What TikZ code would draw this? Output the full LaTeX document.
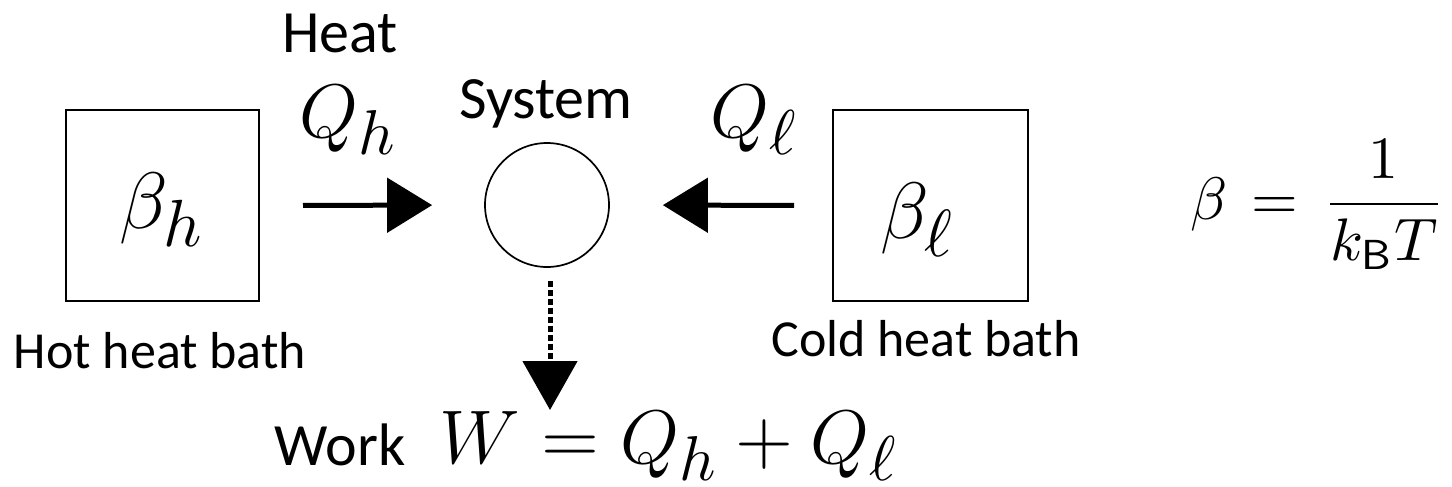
\documentclass[tikz,border=0pt]{standalone}
\usepackage{graphicx}
\usepackage{fontspec}
\newfontfamily\calib{Carlito}
\usetikzlibrary{arrows.meta}
\DeclareMathSizes{12}{12}{10}{7}
\newcommand{\BigMathLab}[1]{\scalebox{3.333}{\fontsize{12}{14}\selectfont #1}}
\newcommand{\MidMathLab}[1]{\scalebox{3.167}{\fontsize{12}{14}\selectfont #1}}
\newcommand{\SmallMathLab}[1]{\scalebox{3}{\fontsize{10}{12}\selectfont #1}}
\tikzset{
  bath/.style={draw, line width=1pt, inner sep=0pt, minimum height=95.5pt},
  sysnode/.style={draw, circle, line width=0.85pt, minimum size=62pt, inner sep=0pt},
  lab/.style={inner sep=0pt, anchor=base, font=\calib\fontsize{30}{36}\selectfont},
  smalllab/.style={inner sep=0pt, anchor=base, font=\calib\fontsize{26}{31}\selectfont},
  mathlab/.style={inner sep=0pt, anchor=base west},
  heatarrow/.style={line width=2.5pt, -{Triangle[length=22.5pt,width=27pt]}},
  workarrow/.style={line width=2.5pt, dash pattern=on 3pt off 1.5pt, -{Triangle[length=24.5pt,width=27pt]}}
}
\begin{document}
\begin{tikzpicture}[x=0.5pt,y=-0.5pt]
\useasboundingbox (0,0) rectangle (1452,487);
% baths
\node[bath, minimum width=96.5pt] (hot) at (162.5,205.5) {};
\node[bath, minimum width=97.5pt] (cold) at (930.5,205.5) {};
\node[mathlab] (betah) at (119,228) {\BigMathLab{$\beta_h$}};
\node[mathlab] (betal) at (880,238) {\BigMathLab{$\beta_\ell$}};
% system
\node[sysnode] (sys) at (547,205) {};
\node[lab] (systxt) at (546,118) {System};
% heat labels
\node[lab] (heat) at (340,53) {Heat};
\node[mathlab] (qh) at (299,137) {\MidMathLab{$Q_h$}};
\node[mathlab] (ql) at (710,137) {\MidMathLab{$Q_\ell$}};
% bath labels
\node[smalllab] (hotlab) at (160,368) {Hot heat bath};
\node[smalllab] (coldlab) at (926,356) {Cold heat bath};
% arrows
\draw[heatarrow, shorten <=21.5pt, shorten >=26pt] (hot.east) -- (sys.west);
\draw[heatarrow, shorten <=19pt, shorten >=26.5pt] (cold.west) -- (sys.east);
\coordinate (wtip) at (550,410);
\draw[workarrow, shorten <=6.5pt] (sys.south -| wtip) -- (wtip);
% work
\node[lab] (work) at (340,465) {Work};
\node[mathlab] (wform) at (439,463) {\MidMathLab{$W = Q_h + Q_\ell$}};
% beta definition
\node[mathlab] (betadef) at (1190,219) {\SmallMathLab{$\beta \mathrel{\hspace{1.3pt}=\hspace{1.3pt}} {\displaystyle\frac{1}{k_{\mathsf{B}}T}}$}};
\end{tikzpicture}
\end{document}
